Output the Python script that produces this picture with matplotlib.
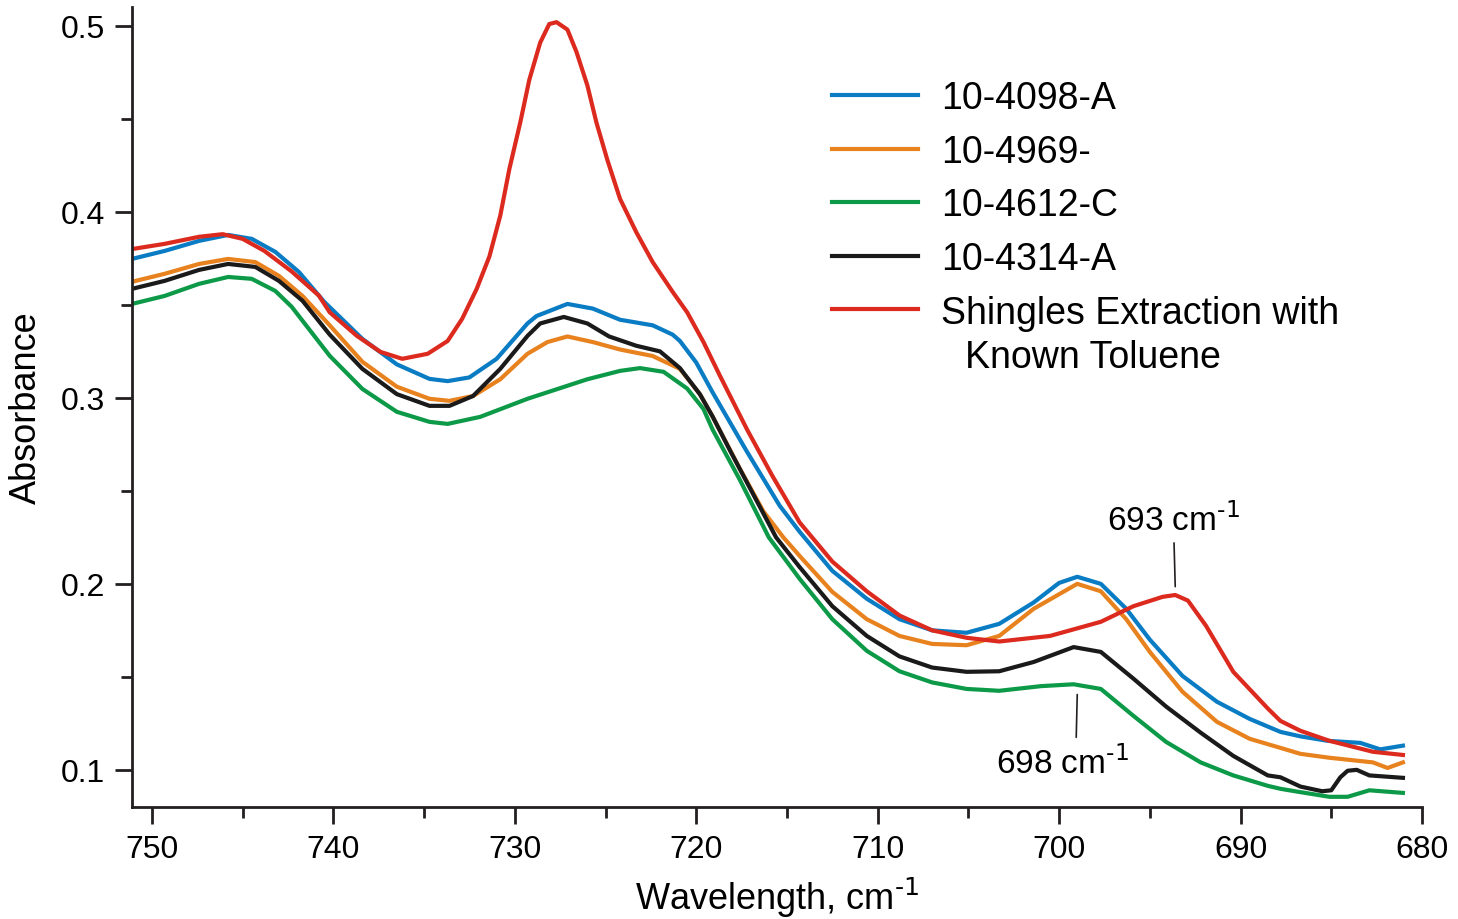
import matplotlib
matplotlib.use("Agg")
from matplotlib import pyplot as plt
from matplotlib.ticker import MultipleLocator

plt.rcParams['font.family'] = ['Liberation Sans', 'DejaVu Sans']

# wavenumbers (cm-1) and absorbance
w_red = [751.1, 749.3, 747.4, 746.1, 745.0, 743.8, 742.3, 740.8, 740.2, 738.7, 737.4, 736.2, 734.8, 733.7, 732.9,
         732.1, 731.4, 730.8, 730.3, 729.7, 729.2, 728.6, 728.1, 727.7, 727.1, 726.6, 726.0, 725.5, 724.9, 724.2,
         723.3, 722.4, 721.3, 720.5, 719.6, 718.7, 717.2, 715.8, 714.3, 712.5, 710.6, 708.8, 707.0, 705.1, 703.3,
         700.5, 697.7, 695.9, 694.3, 693.6, 692.9, 691.9, 690.4, 688.5, 687.8, 686.7, 685.1, 682.7, 681.05]
a_red = [0.380, 0.3828, 0.3866, 0.388, 0.3855, 0.379, 0.368, 0.355, 0.346, 0.3333, 0.3247, 0.321, 0.3237, 0.3306,
         0.3425, 0.3586, 0.376, 0.398, 0.423, 0.448, 0.471, 0.491, 0.501, 0.502, 0.498, 0.486, 0.468, 0.448, 0.428,
         0.407, 0.389, 0.373, 0.357, 0.346, 0.330, 0.312, 0.283, 0.258, 0.233, 0.212, 0.196, 0.183, 0.175, 0.171,
         0.169, 0.172, 0.1796, 0.188, 0.193, 0.194, 0.191, 0.1774, 0.1527, 0.133, 0.1263, 0.121, 0.1156, 0.1097, 0.108]

w_blue = [751.1, 749.3, 747.4, 745.8, 744.5, 743.2, 741.9, 740.5, 738.4, 736.5, 734.7, 733.7, 732.5, 731.0, 729.3,
          728.8, 727.1, 725.7, 724.2, 722.4, 721.3, 720.9, 720.0, 719.1, 717.2, 715.4, 714.3, 712.5, 710.6, 708.8,
          707.0, 705.1, 703.3, 701.4, 700.0, 699.0, 697.7, 696.3, 695.0, 693.2, 691.3, 689.5, 687.8, 686.7, 685.2,
          683.4, 682.3, 681.05]
a_blue = [0.3747, 0.379, 0.3844, 0.3876, 0.3855, 0.3785, 0.3677, 0.3516, 0.3317, 0.318, 0.3102, 0.309, 0.311, 0.321,
          0.340, 0.344, 0.3505, 0.348, 0.342, 0.339, 0.334, 0.3306, 0.319, 0.303, 0.271, 0.242, 0.228, 0.207, 0.192,
          0.181, 0.175, 0.1737, 0.1785, 0.190, 0.2005, 0.2038, 0.200, 0.1866, 0.170, 0.1505, 0.1366, 0.1274, 0.1204,
          0.118, 0.1156, 0.1145, 0.111, 0.113]

w_orange = [751.1, 749.3, 747.4, 745.8, 744.3, 743.0, 741.7, 740.2, 738.4, 736.5, 734.7, 733.6, 732.3, 730.8, 729.3,
            728.2, 727.1, 725.7, 724.2, 722.4, 720.9, 719.8, 719.1, 717.6, 716.3, 715.2, 714.3, 712.5, 710.6, 708.8,
            707.0, 705.1, 703.3, 701.4, 699.0, 697.7, 696.3, 695.0, 693.2, 691.3, 689.5, 687.8, 686.7, 685.1, 682.7,
            681.9, 681.05]
a_orange = [0.3624, 0.3667, 0.372, 0.3747, 0.373, 0.3656, 0.3548, 0.339, 0.3194, 0.306, 0.2995, 0.2984, 0.301, 0.310,
            0.3237, 0.330, 0.333, 0.330, 0.326, 0.3225, 0.3156, 0.302, 0.290, 0.262, 0.239, 0.225, 0.215, 0.1957, 0.181,
            0.172, 0.1677, 0.167, 0.172, 0.1866, 0.200, 0.196, 0.181, 0.1634, 0.142, 0.1258, 0.1167, 0.1118, 0.1086,
            0.1065, 0.104, 0.101, 0.104]

w_green = [751.1, 749.3, 747.4, 745.8, 744.5, 743.2, 742.3, 740.2, 738.4, 736.5, 734.7, 733.7, 731.9, 729.3, 726.0,
           724.2, 723.1, 721.8, 720.5, 719.6, 719.1, 717.6, 716.0, 714.3, 712.5, 710.6, 708.8, 707.0, 705.1, 703.3,
           701.0, 699.2, 697.7, 695.9, 694.1, 692.2, 690.4, 688.5, 687.8, 686.7, 685.1, 684.1, 682.9, 681.05]
a_green = [0.3505, 0.3548, 0.3613, 0.365, 0.364, 0.3575, 0.349, 0.3226, 0.3048, 0.2925, 0.2871, 0.286, 0.2898, 0.2995,
           0.310, 0.3145, 0.316, 0.314, 0.305, 0.294, 0.283, 0.256, 0.225, 0.2027, 0.181, 0.164, 0.153, 0.147, 0.1435,
           0.1425, 0.145, 0.146, 0.1435, 0.129, 0.115, 0.104, 0.097, 0.0914, 0.0898, 0.088, 0.0855, 0.0855, 0.089,
           0.0876]

w_black = [751.1, 749.3, 747.4, 745.8, 744.3, 743.0, 741.7, 740.2, 738.4, 736.5, 734.7, 733.6, 732.3, 730.8, 729.3,
           728.6, 727.3, 726.0, 724.8, 723.3, 722.0, 720.9, 719.8, 719.1, 718.1, 715.6, 714.3, 712.5, 710.6, 708.8,
           707.0, 705.1, 703.3, 701.4, 699.2, 697.7, 695.9, 694.1, 692.2, 690.4, 688.5, 687.8, 686.7, 685.5, 685.0,
           684.5, 684.1, 683.6, 682.9, 681.05]
a_black = [0.3586, 0.3629, 0.3688, 0.372, 0.3704, 0.3629, 0.3522, 0.334, 0.3156, 0.302, 0.2957, 0.2957, 0.301, 0.3156,
           0.3333, 0.340, 0.3435, 0.340, 0.333, 0.328, 0.325, 0.316, 0.302, 0.290, 0.271, 0.225, 0.209, 0.188, 0.172,
           0.161, 0.155, 0.1527, 0.153, 0.158, 0.166, 0.1634, 0.149, 0.134, 0.120, 0.1075, 0.097, 0.096, 0.091, 0.0885,
           0.089, 0.096, 0.0995, 0.100, 0.097, 0.0957]

labels = ["10-4098-A", "10-4969-", "10-4612-C", "10-4314-A", "Shingles Extraction with"]
label_extra = "Known Toluene"

fig = plt.figure(figsize=(14.58, 9.2), dpi=100)
ax = fig.add_axes([0.0905, 0.1217, 0.8848, 0.8693])

lw = 3.0
ax.plot(w_blue, a_blue, color="#0a7cc4", lw=lw, label=labels[0], solid_joinstyle='round')
ax.plot(w_orange, a_orange, color="#e8821e", lw=lw, label=labels[1], solid_joinstyle='round')
ax.plot(w_green, a_green, color="#0d9a48", lw=lw, label=labels[2], solid_joinstyle='round')
ax.plot(w_black, a_black, color="#1a1a1a", lw=lw, label=labels[3], solid_joinstyle='round')
ax.plot(w_red, a_red, color="#dc2a1f", lw=lw, label=labels[4], solid_joinstyle='round')

ax.set_xlim(751.1, 680)
ax.set_ylim(0.080, 0.510)

ax.spines['top'].set_visible(False)
ax.spines['right'].set_visible(False)
for s in ['left', 'bottom']:
    ax.spines[s].set_linewidth(2.0)
    ax.spines[s].set_color("#231f20")

ax.xaxis.set_major_locator(MultipleLocator(10))
ax.xaxis.set_minor_locator(MultipleLocator(5))
ax.yaxis.set_major_locator(MultipleLocator(0.1))
ax.yaxis.set_minor_locator(MultipleLocator(0.05))
ax.tick_params(which='major', direction='out', length=12.5, width=2, labelsize=23, color="#231f20", pad=7)
ax.tick_params(which='minor', direction='out', length=8, width=2, color="#231f20")
ax.set_xticks([750, 740, 730, 720, 710, 700, 690, 680])
ax.set_xticklabels(["750", "740", "730", "720", "710", "700", "690", "680"])
ax.set_yticks([0.1, 0.2, 0.3, 0.4, 0.5])
ax.set_yticklabels(["0.1", "0.2", "0.3", "0.4", "0.5"])

sup = r"$^{\text{-1}}$"
ax.set_xlabel("Wavelength, cm" + sup, fontsize=26, labelpad=8)
ax.set_ylabel("Absorbance", fontsize=26, labelpad=12)

ax.legend(loc='upper left', bbox_to_anchor=(0.5426, 0.909), frameon=False, fontsize=27,
          handlelength=2.3, handletextpad=0.6, labelspacing=0.47, borderpad=0, borderaxespad=0)
ax.text(0.6457, 0.563, label_extra, transform=ax.transAxes, fontsize=27, ha='left', va='center')

# peak annotations
ax.annotate("693 cm" + sup, xy=(693.6, 0.1985), xytext=(693.7, 0.225),
            ha='center', va='bottom', fontsize=24,
            arrowprops=dict(arrowstyle='-', lw=1.2, color="#231f20", shrinkA=2, shrinkB=0))
ax.annotate("698 cm" + sup, xy=(699, 0.1405), xytext=(699.8, 0.113),
            ha='center', va='top', fontsize=24,
            arrowprops=dict(arrowstyle='-', lw=1.2, color="#231f20", shrinkA=4, shrinkB=0,
                            relpos=(0.6, 1.0)))

fig.savefig("out.png", dpi=100)
